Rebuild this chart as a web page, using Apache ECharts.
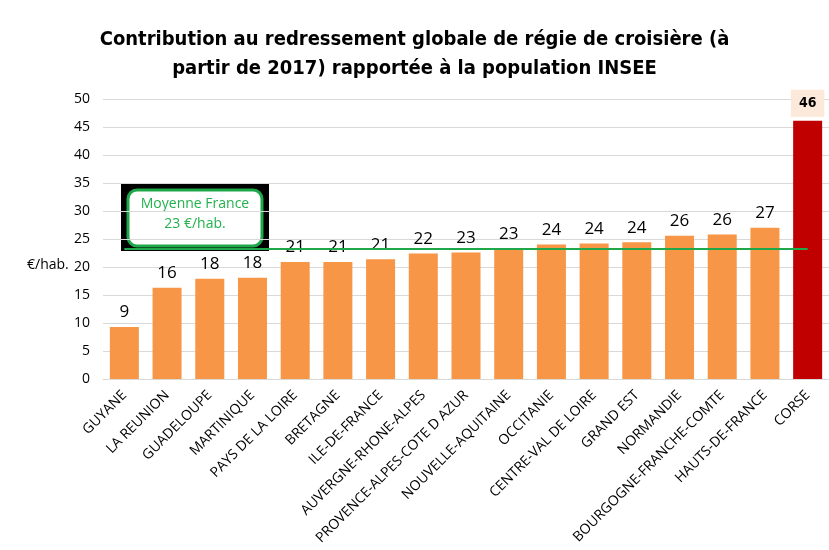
<!DOCTYPE html>
<html>
<head>
<meta charset="utf-8">
<script src="https://cdn.jsdelivr.net/npm/echarts@6/dist/echarts.min.js"></script>
<style>
  html, body { margin: 0; padding: 0; background: #fff; }
  #chart { width: 829px; height: 550px; }
</style>
</head>
<body>
<div id="chart"></div>
<script>
// données
const regions = ['GUYANE', 'LA REUNION', 'GUADELOUPE', 'MARTINIQUE', 'PAYS DE LA LOIRE', 'BRETAGNE',
  'ILE-DE-FRANCE', 'AUVERGNE-RHONE-ALPES', 'PROVENCE-ALPES-COTE D AZUR', 'NOUVELLE-AQUITAINE',
  'OCCITANIE', 'CENTRE-VAL DE LOIRE', 'GRAND EST', 'NORMANDIE', 'BOURGOGNE-FRANCHE-COMTE',
  'HAUTS-DE-FRANCE', 'CORSE']
const contribution = [9.3, 16.3, 17.9, 18.1, 20.9, 20.9, 21.4, 22.4, 22.6, 23.2, 24.0, 24.2, 24.4, 25.6, 25.8, 27.0, 46.1]
const moyenneFrance = 23.2
const yTicks = [0, 50, 5] // min, max, interval

const chart = echarts.init(document.getElementById('chart'))

const barData = contribution.map((v, i) => {
  if (regions[i] === 'CORSE') {
    return {
      value: v,
      itemStyle: { color: '#c00000' },
      label: {
        fontFamily: '"DejaVu Sans Condensed", "Liberation Sans"',
        fontWeight: 'bold',
        fontSize: 14,
        backgroundColor: '#fde9d9',
        padding: [7, 8, 6, 8],
        distance: 4
      }
    }
  }
  return v
})

chart.setOption({
  animation: false,
  title: {
    text: 'Contribution au redressement globale de régie de croisière (à\npartir de 2017) rapportée à la population INSEE',
    left: 'center',
    top: 20,
    textStyle: {
      fontFamily: '"DejaVu Sans Condensed", "Liberation Sans"',
      fontWeight: 'bold',
      fontSize: 20,
      lineHeight: 29,
      color: '#000'
    }
  },
  grid: { left: 103, right: 0, top: 99, bottom: 171 },
  xAxis: {
    type: 'category',
    data: regions,
    axisLine: { lineStyle: { color: '#d9d9d9' } },
    axisTick: { show: false },
    axisLabel: {
      rotate: 45,
      interval: 0,
      color: '#000',
      fontFamily: 'Open Sans',
      fontSize: 14,
      margin: 14
    }
  },
  yAxis: {
    type: 'value',
    min: yTicks[0],
    max: yTicks[1],
    interval: yTicks[2],
    axisLabel: { color: '#000', fontFamily: 'Open Sans', fontSize: 14, margin: 13 },
    splitLine: { lineStyle: { color: '#d9d9d9' } }
  },
  series: [{
    type: 'bar',
    data: barData,
    barWidth: 29,
    itemStyle: { color: '#f79646' },
    label: {
      show: true,
      position: 'top',
      distance: 6,
      color: '#000',
      fontFamily: 'Open Sans',
      fontSize: 17,
      formatter: (p) => Math.round(p.value)
    },
    markLine: {
      silent: true,
      symbol: 'none',
      label: { show: false },
      lineStyle: { color: '#1fa84a', width: 2, type: 'solid' },
      data: [[{ coord: [0, moyenneFrance] }, { coord: [regions.length - 1, moyenneFrance] }]]
    }
  }],
  graphic: [
    {
      type: 'text',
      left: 27,
      top: 258,
      style: { text: '€/hab.', fill: '#000', font: '14px "Open Sans"' }
    },
    {
      type: 'group',
      left: 121,
      top: 184,
      z: 100,
      children: [
        { type: 'rect', shape: { x: 0, y: 0, width: 148, height: 67 }, style: { fill: '#000' } },
        {
          type: 'rect',
          shape: { x: 7, y: 6, width: 134, height: 56, r: 9 },
          style: { fill: '#fff', stroke: '#1fa84a', lineWidth: 3 }
        },
        {
          type: 'text',
          x: 74,
          y: 30,
          style: {
            text: 'Moyenne France\n23 €/hab.',
            fill: '#22b14c',
            font: '14px "Open Sans"',
            lineHeight: 20,
            align: 'center',
            verticalAlign: 'middle'
          }
        }
      ]
    }
  ]
})
</script>
</body>
</html>
